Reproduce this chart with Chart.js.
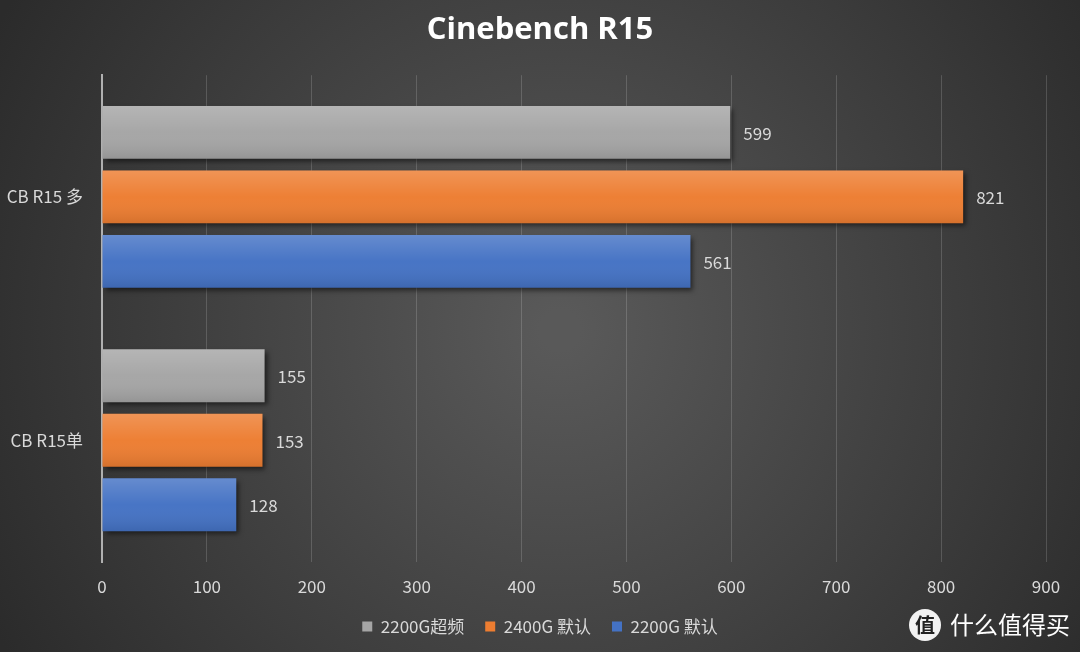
<!DOCTYPE html>
<html>
<head>
<meta charset="utf-8">
<script src="https://cdn.jsdelivr.net/npm/chart.js@4"></script>
<style>
  html, body { margin: 0; padding: 0; background: #2c2c2c; }
  #wrap { width: 1080px; height: 652px; }
</style>
</head>
<body>
<div id="wrap"><canvas id="c" width="1080" height="652"></canvas></div>
<script>
// 数据：从图上读出
const categories = ["CB R15 多", "CB R15单"];
const seriesNames = ["2200G超频", "2400G 默认", "2200G 默认"];
const oc2200 = [599, 155];
const def2400 = [821, 153];
const def2200 = [561, 128];
const xTicks = [0, 100, 200, 300, 400, 500, 600, 700, 800, 900];

const COLORS = ["#a5a5a5", "#ed7d31", "#4472c4"];
const TEXT = "#d9d9d9";
const FONT = "'Noto Sans CJK SC', 'Open Sans', sans-serif";

// 背景：径向渐变（中间亮，四周暗）
const bgPlugin = {
  id: "bg",
  beforeDraw(chart) {
    const { ctx, width, height } = chart;
    const g = ctx.createRadialGradient(560, 330, 20, 560, 330, 640);
    g.addColorStop(0, "#595959");
    g.addColorStop(1, "#2b2b2b");
    ctx.save();
    ctx.fillStyle = g;
    ctx.fillRect(0, 0, width, height);
    ctx.restore();
  },
};

// 柱子阴影 + 上亮下暗的光泽，外加数值标签
const barFx = {
  id: "barFx",
  beforeDatasetsDraw(chart) {
    const ctx = chart.ctx;
    ctx.save();
    ctx.shadowColor = "rgba(0,0,0,0.55)";
    ctx.shadowBlur = 5;
    ctx.shadowOffsetX = 3;
    ctx.shadowOffsetY = 3;
  },
  afterDatasetsDraw(chart) {
    const ctx = chart.ctx;
    ctx.restore();
    ctx.save();
    chart.data.datasets.forEach((ds, i) => {
      chart.getDatasetMeta(i).data.forEach(bar => {
        const top = bar.y - bar.height / 2;
        const g = ctx.createLinearGradient(0, top, 0, top + bar.height);
        g.addColorStop(0, "rgba(255,255,255,0.18)");
        g.addColorStop(0.5, "rgba(255,255,255,0.02)");
        g.addColorStop(1, "rgba(0,0,0,0.10)");
        ctx.fillStyle = g;
        ctx.fillRect(bar.base, top, bar.x - bar.base, bar.height);
      });
    });
    ctx.fillStyle = TEXT;
    ctx.font = "17px " + FONT;
    ctx.textBaseline = "middle";
    chart.data.datasets.forEach((ds, i) => {
      chart.getDatasetMeta(i).data.forEach((bar, j) => {
        ctx.fillText(String(ds.data[j]), bar.x + 13, bar.y + 1);
      });
    });
    ctx.restore();
  },
};

// 右下角水印
const markPlugin = {
  id: "mark",
  afterDraw(chart) {
    const ctx = chart.ctx;
    ctx.save();
    ctx.fillStyle = "#f2f2f2";
    ctx.beginPath();
    ctx.arc(925, 625, 16, 0, Math.PI * 2);
    ctx.fill();
    ctx.fillStyle = "#222";
    ctx.font = "bold 20px 'Noto Sans CJK SC'";
    ctx.textAlign = "center";
    ctx.textBaseline = "middle";
    ctx.fillText("值", 925, 625);
    ctx.fillStyle = "#ffffff";
    ctx.font = "24px 'Noto Sans CJK SC'";
    ctx.textAlign = "left";
    ctx.fillText("什么值得买", 950, 625);
    ctx.restore();
  },
};

new Chart(document.getElementById("c"), {
  type: "bar",
  data: {
    labels: categories,
    datasets: [
      { label: seriesNames[0], data: oc2200, backgroundColor: COLORS[0] },
      { label: seriesNames[1], data: def2400, backgroundColor: COLORS[1] },
      { label: seriesNames[2], data: def2200, backgroundColor: COLORS[2] },
    ],
  },
  options: {
    indexAxis: "y",
    responsive: false,
    animation: false,
    datasets: { bar: { categoryPercentage: 0.795, barPercentage: 0.82 } },
    layout: { padding: { left: 0, right: 0, top: 0, bottom: 7 } },
    plugins: {
      title: {
        display: true,
        text: "Cinebench R15",
        color: "#ffffff",
        font: { family: "'Open Sans', sans-serif", size: 31, weight: "bold" },
        padding: { top: 12, bottom: 26 },
      },
      legend: {
        position: "bottom",
        labels: {
          color: TEXT,
          font: { family: FONT, size: 17 },
          boxWidth: 10, boxHeight: 10, padding: 21,
        },
      },
      tooltip: { enabled: false },
    },
    scales: {
      x: {
        min: 0, max: 900,
        afterBuildTicks: s => { s.ticks = xTicks.map(v => ({ value: v })); },
        afterFit: s => { s.height = 35; },
        ticks: { color: TEXT, font: { family: FONT, size: 17 }, padding: 14 },
        grid: { color: "rgba(255,255,255,0.16)", drawTicks: false },
        border: { display: false },
      },
      y: {
        afterFit: s => { s.width = 102; },
        ticks: { color: TEXT, font: { family: FONT, size: 17 }, padding: 19 },
        grid: { display: false, drawTicks: false },
        border: { display: true, color: "#b0b0b0", width: 2 },
      },
      // 右侧空白轴：留出右边距，同时让标题、图例按整张图居中
      yRight: {
        type: "category",
        position: "right",
        afterFit: s => { s.width = 34; },
        ticks: { display: false },
        grid: { display: false, drawTicks: false },
        border: { display: false },
      },
    },
  },
  plugins: [bgPlugin, barFx, markPlugin],
});
</script>
</body>
</html>
